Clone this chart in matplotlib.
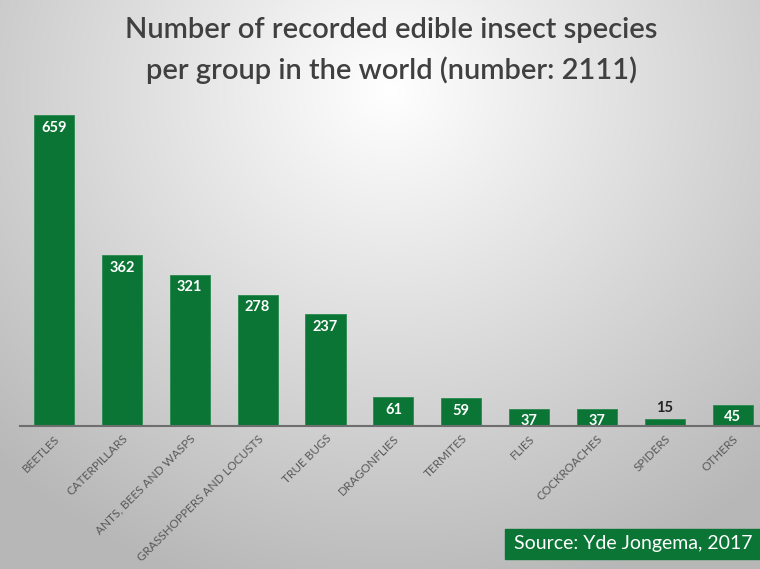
import numpy as np
import matplotlib
matplotlib.use("Agg")
import matplotlib.pyplot as plt
from matplotlib.patches import Rectangle

plt.rcParams['font.family'] = ['Lato', 'DejaVu Sans']

groups = ["BEETLES", "CATERPILLARS", "ANTS, BEES AND WASPS", "GRASSHOPPERS AND LOCUSTS",
          "TRUE BUGS", "DRAGONFLIES", "TERMITES", "FLIES", "COCKROACHES", "SPIDERS", "OTHERS"]
species = [659, 362, 321, 278, 237, 61, 59, 37, 37, 15, 45]

green = '#0a7535'

fig = plt.figure(figsize=(7.6, 5.69), dpi=100)

# radial grey background, bright near the top centre
bg = fig.add_axes([0, 0, 1, 1], zorder=-10)
yy, xx = np.mgrid[0:569, 0:760]
r = np.sqrt(((xx - 390) / 540.0) ** 2 + ((yy - 90) / 500.0) ** 2)
shade = np.clip(1.0 - 0.27 * r, 0.72, 1.0)
bg.imshow(np.dstack([shade, shade, shade]), aspect='auto', extent=[0, 1, 0, 1])
bg.axis('off')

ax = fig.add_axes([20 / 760, (569 - 426) / 569, 740 / 760, 330 / 569])
ax.patch.set_alpha(0)
x = np.arange(len(groups))
bars = ax.bar(x, species, width=0.59, color=green, edgecolor='#2a8a50', linewidth=0.6)
ax.set_xlim(-0.5, 10.4)
ax.set_ylim(0, 700)

for b, v in zip(bars, species):
    cx = b.get_x() + b.get_width() / 2
    if v < 30:
        ax.annotate(str(v), (cx, v), xytext=(0, 3), textcoords='offset points',
                    ha='center', va='bottom', fontsize=10.5, fontweight='bold', color='#222222')
    else:
        ax.annotate(str(v), (cx, v), xytext=(0, -4), textcoords='offset points',
                    ha='center', va='top', fontsize=10.5, fontweight='bold', color='white')

for s in ['top', 'right', 'left']:
    ax.spines[s].set_visible(False)
ax.spines['bottom'].set_color('#6e6e6e')
ax.spines['bottom'].set_linewidth(1.5)
ax.set_yticks([])
ax.set_xticks(x)
ax.set_xticklabels(groups, rotation=45, ha='right', rotation_mode='anchor',
                   fontsize=8.5, color='#595959')
ax.tick_params(axis='x', length=0, pad=5)

fig.text(0.515, 0.947, "Number of recorded edible insect species", ha='center', va='center',
         fontsize=21, fontweight='semibold', color='#404040')
fig.text(0.515, 0.877, "per group in the world (number: 2111)", ha='center', va='center',
         fontsize=21, fontweight='semibold', color='#404040')

# source box, bottom right
fig.patches.append(Rectangle((505 / 760, (569 - 559) / 569), 255 / 760, 30 / 569,
                             transform=fig.transFigure, color=green, zorder=5))
fig.text(752 / 760, (569 - 544) / 569, "Source: Yde Jongema, 2017", ha='right', va='center',
         fontsize=14, color='white', zorder=6)

fig.savefig('out.png', dpi=100)
